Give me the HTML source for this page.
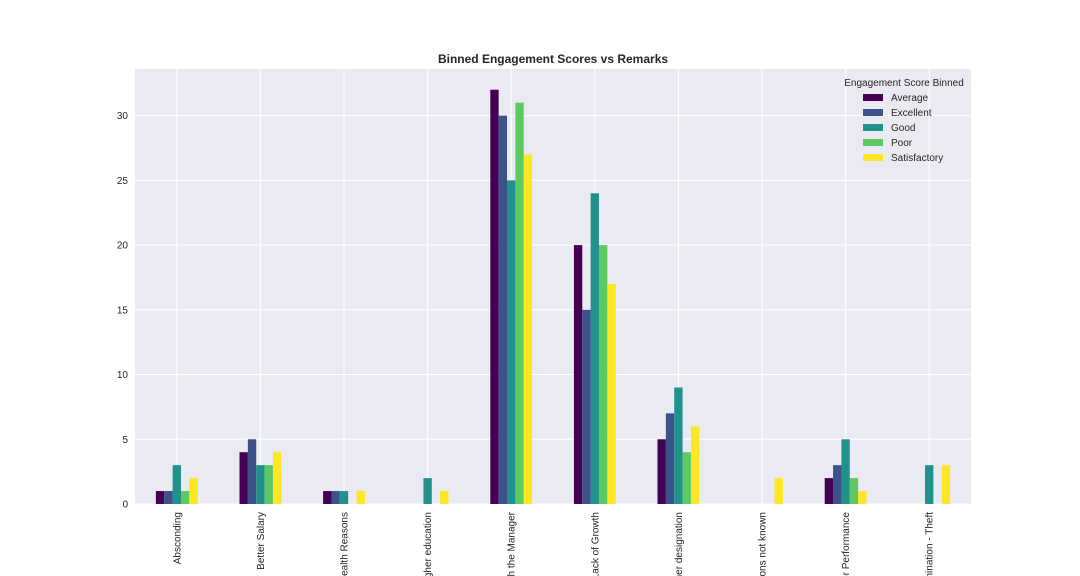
<!DOCTYPE html>
<html><head><meta charset="utf-8"><style>html,body{margin:0;padding:0;background:#fff;width:1080px;height:576px;overflow:hidden;}svg{display:block;font-family:"Liberation Sans",sans-serif;}</style></head>
<body>
<svg id="chart" width="1080" height="576" viewBox="0 0 1080 576" overflow="hidden"></svg>
<script>
const categories=["Absconding","Better Salary","Health Reasons","Higher education","Issues with the Manager","Lack of Growth","Higher designation","Reasons not known","Poor Performance","Termination - Theft"];
const seriesNames=["Average","Excellent","Good","Poor","Satisfactory"];
const avgVals=[1,4,1,0,32,20,5,0,2,0];
const excVals=[1,5,1,0,30,15,7,0,3,0];
const goodVals=[3,3,1,2,25,24,9,0,5,3];
const poorVals=[1,3,0,0,31,20,4,0,2,0];
const satVals=[2,4,1,1,27,17,6,2,1,3];
const yTicks=[0,5,10,15,20,25,30];
const colors=["#440154","#3b528b","#21918c","#5ec962","#fde725"];
const series=[avgVals,excVals,goodVals,poorVals,satVals];
const NS="http://www.w3.org/2000/svg";
const svg=document.getElementById('chart');
const L=135,R=971,T=69,B=504;
const yMax=33.6;
const y=v=>B-(v/yMax)*(B-T);
const step=(R-L)/categories.length;
const x=i=>L+step*(i+0.5);
function mk(tag,attrs,parent){const e=document.createElementNS(NS,tag);for(const k in attrs)e.setAttribute(k,attrs[k]);(parent||svg).appendChild(e);return e;}
const bg=mk('rect',{x:L,y:T,width:R-L,height:B-T,fill:'#eaeaf2'});


yTicks.forEach(t=>{
 const g=mk('line',{x1:L,x2:R,y1:y(t),y2:y(t),stroke:'#fff','stroke-width':1});
 
 
 const tx=mk('text',{x:128,y:y(t)+3.5,'text-anchor':'end','font-size':10,fill:'#262626'});
 tx.textContent=t;
 
 
});
categories.forEach((c,i)=>{
 const g=mk('line',{x1:x(i),x2:x(i),y1:T,y2:B,stroke:'#fff','stroke-width':1});
 
 
});
const bw=step*0.5/5;
series.forEach((vals,s)=>{
 vals.forEach((v,i)=>{
  const bx=x(i)-step*0.25+s*bw;
  const r=mk('rect',{x:bx,y:y(v),width:bw,height:B-y(v),fill:colors[s]});
  
  
 });
});
categories.forEach((c,i)=>{
 const tx=mk('text',{transform:`translate(${x(i)+3.5},512) rotate(-90)`,'text-anchor':'end','font-size':10,fill:'#262626'});
 tx.textContent=c;
 
 
});
const title=mk('text',{x:553,y:63,'text-anchor':'middle','font-size':12,'font-weight':'bold',fill:'#262626'});
title.textContent='Binned Engagement Scores vs Remarks';


const lt=mk('text',{x:904,y:86,'text-anchor':'middle','font-size':10,fill:'#262626'});
lt.textContent='Engagement Score Binned';


seriesNames.forEach((n,s)=>{
 const yy=94+s*15;
 const r=mk('rect',{x:863,y:yy,width:20,height:7,fill:colors[s]});
 
 
 const t=mk('text',{x:891,y:yy+7,'font-size':10,fill:'#262626'});
 t.textContent=n;
 
 
});
</script>
</body></html>
